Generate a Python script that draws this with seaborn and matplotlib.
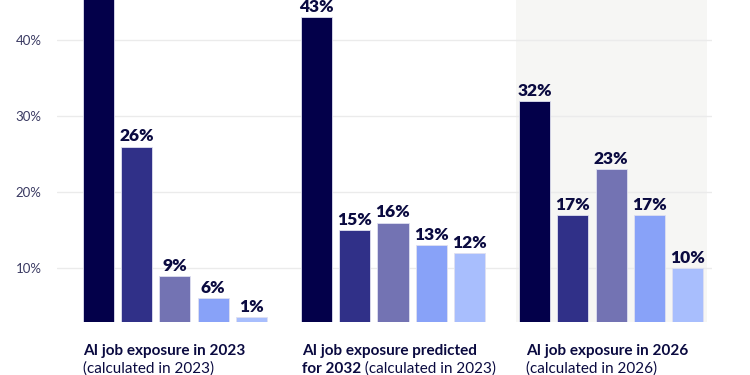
import numpy as np
import pandas as pd
import matplotlib.pyplot as plt
import seaborn as sns

# Datos
groups = ["2023", "2032p", "2026"]
series = ["Serie 1", "Serie 2", "Serie 3", "Serie 4", "Serie 5"]
values_2023 = [48, 26, 9, 6, 1]
values_2032 = [43, 15, 16, 13, 12]
values_2026 = [32, 17, 23, 17, 10]
colors = ["#03004a", "#303088", "#7373b3", "#88a2f8", "#a8befd"]
yticks = [10, 20, 30, 40]

rows = []
for g, vals in zip(groups, [values_2023, values_2032, values_2026]):
    for s, v in zip(series, vals):
        rows.append({"group": g, "serie": s, "value": v})
df = pd.DataFrame(rows)

y_bottom, y_top = 2.9, 45.3
# altura minima visible para barras por debajo del eje
df["shown"] = np.maximum(df["value"], y_bottom + 0.6)

sns.set_theme(style="white")
plt.rcParams["font.family"] = ["Lato", "DejaVu Sans"]

fig = plt.figure(figsize=(7.5, 3.75), dpi=100)
ax = fig.add_axes([57 / 750, 53 / 375, 655 / 750, 322 / 375])

ax.axvspan(1.564, 2.440, ymin=0, ymax=1, color="#f6f6f4", zorder=0, lw=0)

sns.barplot(data=df, x="group", y="shown", hue="serie", palette=colors,
            saturation=1, width=0.878, gap=0.19, ax=ax, legend=False, zorder=3,
            edgecolor="#dfe0f0", linewidth=0.6)

ax.set_ylim(y_bottom, y_top)
ax.set_xlim(-0.541, 2.463)
ax.set_yticks(yticks)
ax.set_yticklabels([f"{t}%" for t in yticks])
ax.tick_params(axis="y", length=0, pad=11, labelsize=9.5, labelcolor="#3a3a62")
ax.set_xticks([])
ax.set_xlabel("")
ax.set_ylabel("")
for s in ax.spines.values():
    s.set_visible(False)
ax.yaxis.grid(True, color="#ebebeb", lw=1, zorder=1)
ax.set_axisbelow(True)

# etiquetas de valor
for i, cont in enumerate(ax.containers):
    vals = df[df["serie"] == series[i]]["value"].tolist()
    for bar, v in zip(cont, vals):
        ax.annotate(f"{v}%", (bar.get_x() + bar.get_width() / 2, bar.get_height()),
                    xytext=(0, 1.5), textcoords="offset points", ha="center", va="bottom",
                    fontsize=12.5, fontweight="heavy", color="#0a0a40")

# etiquetas de grupo
tc = "#0a0a40"
tr = ax.get_xaxis_transform()
y1 = (20 - 53) / 322
y2 = (2 - 53) / 322
ax.text(-0.422, y1, "AI job exposure in 2023", transform=tr, fontsize=11,
        fontweight="bold", color=tc, va="baseline")
ax.text(-0.422, y2, "(calculated in 2023)", transform=tr, fontsize=11,
        color=tc, va="baseline")
ax.text(0.583, y1, "AI job exposure predicted", transform=tr, fontsize=11,
        fontweight="bold", color=tc, va="baseline")
t = ax.text(0.583, y2, "for 2032", transform=tr, fontsize=11,
            fontweight="bold", color=tc, va="baseline")
ax.annotate(" (calculated in 2023)", xy=(1, 0), xycoords=t, fontsize=11,
            color=tc, va="bottom", ha="left")
ax.text(1.610, y1, "AI job exposure in 2026", transform=tr, fontsize=11,
        fontweight="bold", color=tc, va="baseline")
ax.text(1.610, y2, "(calculated in 2026)", transform=tr, fontsize=11,
        color=tc, va="baseline")

fig.savefig("out.png", dpi=100)
